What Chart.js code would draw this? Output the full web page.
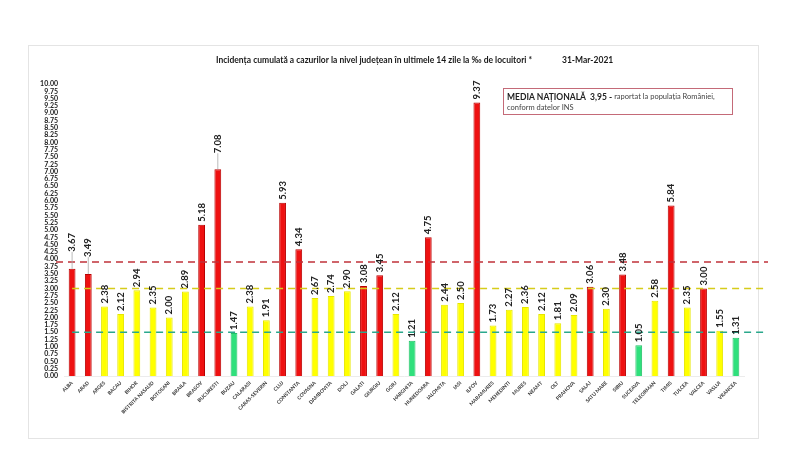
<!DOCTYPE html>
<html lang="ro">
<head>
<meta charset="UTF-8" />
<title>Incidența cumulată</title>
<script src="https://cdn.jsdelivr.net/npm/chart.js"></script>
<style>
  html, body { margin: 0; padding: 0; background: #fff; }
  #wrap { width: 800px; height: 455px; position: relative; }
</style>
</head>
<body>
<div id="wrap"><canvas id="incChart" width="800" height="455"></canvas></div>
<script>
  // counties, in the order of the reference
  const judete = ['ALBA', 'ARAD', 'ARGES', 'BACAU', 'BIHOR', 'BISTRITA NASAUD', 'BOTOSANI', 'BRAILA', 'BRASOV',
    'BUCURESTI', 'BUZAU', 'CALARASI', 'CARAS-SEVERIN', 'CLUJ', 'CONSTANTA', 'COVASNA', 'DAMBOVITA', 'DOLJ',
    'GALATI', 'GIURGIU', 'GORJ', 'HARGHITA', 'HUNEDOARA', 'IALOMITA', 'IASI', 'ILFOV', 'MARAMURES', 'MEHEDINTI',
    'MURES', 'NEAMT', 'OLT', 'PRAHOVA', 'SALAJ', 'SATU MARE', 'SIBIU', 'SUCEAVA', 'TELEORMAN', 'TIMIS',
    'TULCEA', 'VALCEA', 'VASLUI', 'VRANCEA'];

  // incidence per 1000 inhabitants, 14 days
  const incidenta = [3.67, 3.49, 2.38, 2.12, 2.94, 2.35, 2.00, 2.89, 5.18,
    7.08, 1.47, 2.38, 1.91, 5.93, 4.34, 2.67, 2.74, 2.90,
    3.08, 3.45, 2.12, 1.21, 4.75, 2.44, 2.50, 9.37, 1.73, 2.27,
    2.36, 2.12, 1.81, 2.09, 3.06, 2.30, 3.48, 1.05, 2.58, 5.84,
    2.35, 3.00, 1.55, 1.31];

  const mediaNationala = 3.9;   // red dashed line
  const pragGalben = 3.0;       // yellow dashed line
  const pragVerde = 1.5;        // green dashed line

  const yTickMin = 0, yTickMax = 10, yTickStep = 0.25;

  const titlu = 'Incidența cumulată a cazurilor la nivel județean în ultimele 14 zile la ‰ de locuitori *';
  const dataRaport = '31-Mar-2021';

  function culoare(v) {
    if (v >= pragGalben) return '#ee1111';
    if (v > pragVerde) return '#ffff00';
    return '#2fe07c';
  }
  function bordura(v) {
    if (v >= pragGalben) return '#b80000';
    if (v > pragVerde) return '#e6e600';
    return '#22c066';
  }

  // labels that were moved higher, with a leader line
  const etichetaRidicata = { 'ALBA': 17, 'ARAD': 17, 'BUCURESTI': 16 };

  const decor = {
    id: 'decor',
    beforeDraw(chart) {
      const ctx = chart.ctx;
      ctx.save();
      ctx.fillStyle = '#fff';
      ctx.fillRect(0, 0, chart.width, chart.height);
      ctx.strokeStyle = '#e4e4e4';
      ctx.lineWidth = 1;
      ctx.strokeRect(28.5, 45.5, 730, 393);
      ctx.restore();
    },
    afterDatasetsDraw(chart) {
      const ctx = chart.ctx;
      const x = chart.scales.x, y = chart.scales.y;
      const area = chart.chartArea;
      const firstX = x.getPixelForValue(0);

      // threshold lines
      const linie = (val, color, x0, x1) => {
        ctx.save();
        ctx.strokeStyle = color;
        ctx.lineWidth = 1.5;
        ctx.setLineDash([7, 5]);
        ctx.beginPath();
        ctx.moveTo(x0, y.getPixelForValue(val));
        ctx.lineTo(x1, y.getPixelForValue(val));
        ctx.stroke();
        ctx.restore();
      };
      linie(mediaNationala, '#c0323a', area.left - 8, area.right + 24);
      linie(pragGalben, '#d6cc1a', firstX, area.right + 21);
      linie(pragVerde, '#2aa88c', firstX, area.right + 21);

      // value labels
      const meta = chart.getDatasetMeta(0);
      ctx.save();
      ctx.font = 'bold 9.5px Lato, "Open Sans", sans-serif';
      ctx.fillStyle = '#222';
      meta.data.forEach((bar, i) => {
        const lift = etichetaRidicata[judete[i]] || 3;
        const top = bar.y;
        if (lift > 3) {
          ctx.strokeStyle = '#aaa';
          ctx.lineWidth = 0.8;
          ctx.beginPath();
          ctx.moveTo(bar.x, top);
          ctx.lineTo(bar.x, top - lift);
          ctx.stroke();
        }
        ctx.save();
        ctx.translate(bar.x, top - lift);
        ctx.rotate(-Math.PI / 2);
        ctx.textAlign = 'left';
        ctx.textBaseline = 'middle';
        ctx.fillText(incidenta[i].toFixed(2), 0, 0);
        ctx.restore();
      });
      ctx.restore();

      // title
      ctx.save();
      ctx.fillStyle = '#1a1a1a';
      ctx.font = 'bold 8.5px Lato, "Open Sans", sans-serif';
      ctx.textBaseline = 'middle';
      ctx.textAlign = 'left';
      ctx.fillText(titlu, 216, 60);
      ctx.fillText(dataRaport, 562, 60);
      ctx.restore();

      // national average box
      ctx.save();
      ctx.strokeStyle = '#c46a78';
      ctx.lineWidth = 1;
      ctx.strokeRect(503.5, 88.5, 229, 26);
      ctx.textBaseline = 'middle';
      ctx.fillStyle = '#222';
      ctx.font = 'bold 8.5px Lato, "Open Sans", sans-serif';
      const t1 = 'MEDIA NAȚIONALĂ  3,95';
      ctx.fillText(t1, 507, 97);
      const w1 = ctx.measureText(t1).width;
      ctx.fillText(' -', 507 + w1, 97);
      const w2 = ctx.measureText(' - ').width;
      ctx.font = '7.5px Lato, "Open Sans", sans-serif';
      ctx.fillStyle = '#444';
      ctx.fillText('raportat la populația României,', 507 + w1 + w2, 97);
      ctx.fillText('conform datelor INS', 507, 108);
      ctx.restore();
    }
  };

  const yTicks = [];
  for (let k = 0; k <= (yTickMax - yTickMin) / yTickStep; k++) yTicks.push(yTickMin + k * yTickStep);

  new Chart(document.getElementById('incChart'), {
    type: 'bar',
    data: {
      labels: judete,
      datasets: [{
        data: incidenta,
        backgroundColor: incidenta.map(culoare),
        borderColor: incidenta.map(bordura),
        borderWidth: 1,
        barPercentage: 0.42,
        categoryPercentage: 1.0
      }]
    },
    options: {
      responsive: false,
      animation: false,
      layout: { padding: { left: 20, right: 56, top: 84, bottom: 39 } },
      plugins: {
        legend: { display: false },
        tooltip: { enabled: false }
      },
      scales: {
        x: {
          grid: { display: false, drawTicks: false },
          border: { display: true, color: '#ececec' },
          afterFit: s => { s.height = 40; },
          ticks: {
            autoSkip: false,
            maxRotation: 45,
            minRotation: 45,
            padding: 4,
            color: '#333',
            font: { family: 'Lato, "Open Sans", sans-serif', size: 5, weight: 'bold' }
          }
        },
        y: {
          min: yTickMin,
          max: yTickMax,
          grid: { display: false, drawTicks: false },
          border: { display: false },
          afterFit: s => { s.width = 44; },
          afterBuildTicks: s => { s.ticks = yTicks.map(v => ({ value: v })); },
          ticks: {
            autoSkip: false,
            padding: 6,
            color: '#222',
            font: { family: 'Lato, "Open Sans", sans-serif', size: 7, weight: 'bold' },
            callback: v => Number(v).toFixed(2)
          }
        }
      }
    },
    plugins: [decor]
  });
</script>
</body>
</html>
